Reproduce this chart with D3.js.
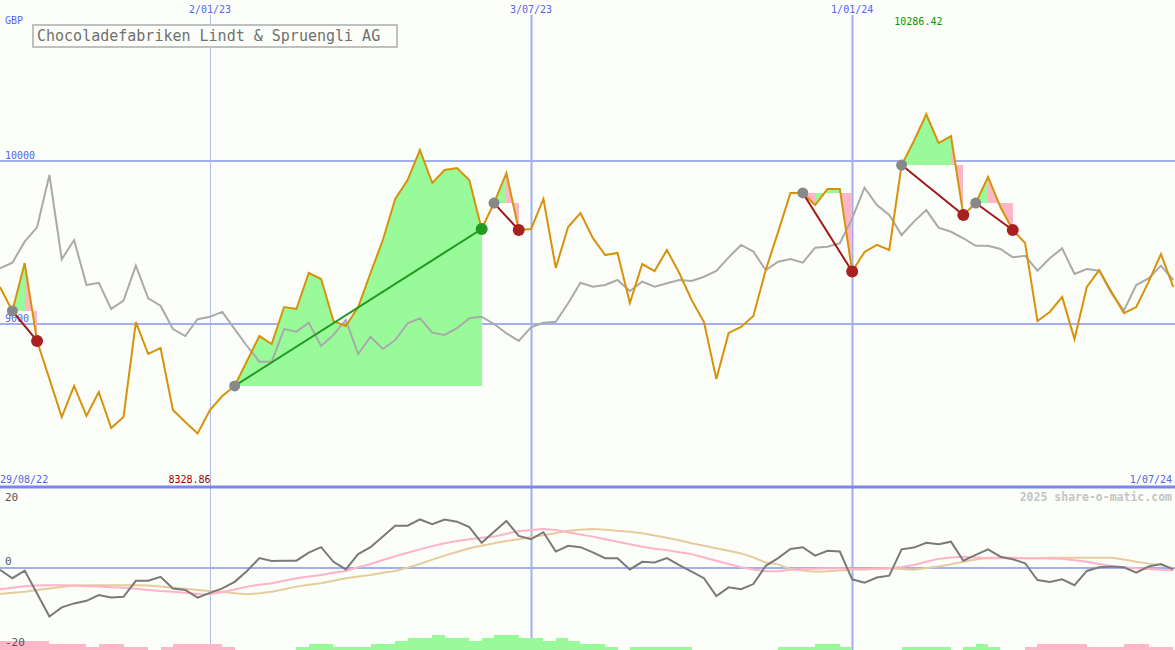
<!DOCTYPE html>
<html><head><meta charset="utf-8">
<script src="https://cdn.jsdelivr.net/npm/d3@7"></script>
<style>html,body{margin:0;padding:0;background:#fcfefa;} svg{display:block;}</style>
</head><body><svg id="c" width="1175" height="650"></svg>
<script>
// ---- data (weekly closes, index 0 .. 95) ----
const price = [9227,9080,9374,8896,8663,8429,8620,8436,8583,8362,
  8429,9012,8816,8853,8472,8399,8328.86,8472,8558,8620,
  8773,8926,8877,9104,9092,9313,9276,9018,8988,9104,
  9313,9515,9767,9883,10067,9865,9945,9957,9883,9583,
  9742,9926,9577,9583,9767,9344,9595,9681,9528,9423,
  9436,9129,9368,9325,9454,9313,9147,9012,8663,8945,
  8982,9049,9331,9564,9804,9804,9730,9828,9828,9322,
  9442,9485,9454,9975,10123,10286.42,10110,10153,9669,9742,
  9902,9718,9577,9497,9018,9074,9166,8908,9227,9331,
  9196,9067,9104,9258,9429,9227];
const compare = [9342,9376,9505,9593,9914,9397,9515,9239,9253,9092,
  9143,9358,9158,9112,8969,8926,9029,9045,9074,8969,
  8865,8769,8769,8969,8953,9008,8865,8933,9025,8816,
  8922,8847,8902,9004,9035,8947,8933,8974,9035,9045,
  9000,8943,8896,8980,9008,9014,9127,9253,9229,9239,
  9270,9202,9260,9229,9250,9270,9264,9290,9325,9409,
  9485,9444,9331,9382,9399,9376,9468,9474,9495,9648,
  9836,9730,9669,9546,9628,9699,9591,9566,9526,9480,
  9480,9460,9409,9419,9327,9403,9464,9307,9337,9327,
  9188,9082,9239,9280,9358,9270];
const momentum = [-0.5,-2.8,-0.7,-7.0,-13.3,-10.8,-9.7,-9.0,-7.4,-8.1,
  -7.9,-3.5,-3.5,-2.4,-5.6,-6.0,-8.1,-6.8,-5.6,-3.8,
  -0.8,2.7,1.9,2.0,2.0,4.2,5.7,1.7,-0.4,3.8,
  5.7,8.6,11.6,11.6,13.3,12.0,13.3,12.7,11.2,6.9,
  9.9,12.9,8.8,7.9,9.8,4.5,6.1,5.7,4.3,2.7,
  2.7,-0.4,1.7,1.5,2.7,0.8,-1.0,-2.8,-7.7,-5.3,
  -5.8,-4.4,0.6,2.7,5.2,5.7,3.4,4.7,4.5,-3.1,
  -4.0,-2.6,-2.1,5.1,5.6,6.9,6.5,7.2,2.0,3.6,
  5.1,3.1,2.4,1.3,-3.3,-3.8,-3.1,-4.7,-0.8,0.2,
  0.4,0.2,-1.3,0.4,1.1,-0.4];
const avgFast = [-5.8,-5.4,-5.0,-4.8,-4.7,-4.7,-4.8,-5.0,-5.1,-5.3,
  -5.4,-5.7,-6.0,-6.3,-6.5,-6.8,-7.1,-7.2,-6.6,-5.9,
  -5.1,-4.6,-4.2,-3.5,-2.8,-2.3,-1.9,-1.3,-0.8,0.2,
  1.1,2.2,3.2,4.2,5.1,6.0,6.8,7.4,7.9,8.3,
  8.6,9.4,10.1,10.4,10.7,10.4,9.8,9.2,8.6,7.9,
  7.2,6.5,5.8,5.3,4.9,4.3,3.8,2.9,2.0,1.1,
  0.2,-0.4,-0.9,-0.9,-0.5,-0.3,-0.2,-0.1,-0.1,-0.3,
  -0.4,-0.2,-0.1,0.3,0.8,1.7,2.5,2.9,3.1,2.9,
  2.7,2.7,2.7,2.7,2.7,2.6,2.5,2.1,1.7,1.1,
  0.5,0.2,-0.1,-0.3,-0.5,-0.7];
const avgSlow = [-7.1,-6.8,-6.5,-6.0,-5.6,-5.2,-4.8,-4.7,-4.7,-4.7,
  -4.7,-4.7,-4.8,-5.1,-5.4,-5.7,-6.0,-6.3,-6.5,-6.9,
  -7.2,-6.9,-6.5,-5.8,-5.1,-4.6,-4.2,-3.5,-2.8,-2.3,
  -1.9,-1.3,-0.8,0.1,1.1,2.3,3.4,4.4,5.4,6.1,
  6.8,7.4,7.9,8.5,9.0,9.6,10.2,10.5,10.7,10.5,
  10.2,9.9,9.5,8.9,8.3,7.6,6.8,6.1,5.4,4.7,
  4.0,2.9,1.5,1.0,-0.3,-0.7,-1.0,-0.9,-0.7,-0.5,
  -0.3,-0.2,-0.1,-0.3,-0.5,0.0,0.4,1.0,1.7,2.3,
  2.8,2.8,2.8,2.7,2.7,2.8,2.8,2.8,2.8,2.8,
  2.8,2.3,1.7,1.2,0.8,-0.1];
const signalBars = [-3,-3,-3,-3,-2,-2,-2,-1,-2,-2,
  -1,-1,0,-1,-2,-2,-2,-2,-1,0,
  0,0,0,0,1,2,2,1,1,1,
  2,2,3,4,4,5,4,4,3,4,
  5,5,4,4,3,4,3,2,2,1,
  0,1,1,1,1,1,0,0,0,0,
  0,0,0,1,1,1,2,2,1,0,
  0,0,0,1,1,1,1,0,1,2,
  1,0,0,-1,-2,-2,-2,-2,-1,-1,
  -1,-2,-2,-1,-1];
const buyIdx  = [1, 19, 40, 65, 73, 79];
const sellIdx = [3, 39, 42, 69, 78, 82];
const dateTickIdx = [17, 43, 69];
const dateTickLabels = ["2/01/23", "3/07/23", "1/01/24"];
const priceTicks = [9000, 10000];
const lowerTicks = [20, 0, -20];
const title = "Chocoladefabriken Lindt & Spruengli AG";
const startLabel = "29/08/22", endLabel = "1/07/24";

// ---- drawing ----
const W = 1175, H = 650;
const FONT = "'DejaVu Sans Mono', 'Liberation Mono', monospace";
const svg = d3.select('#c');
svg.append('rect').attr('width', W).attr('height', H).attr('fill', '#fcfefa');

const x = d3.scaleLinear().domain([0, 95]).range([0, 1173.3]);
const y = d3.scaleLinear().domain([9000, 10000]).range([324, 161]);
const yb = d3.scaleLinear().domain([-20, 20]).range([641, 495]);
const hb = d3.scaleLinear().domain([0, 5]).range([0, 15]);

const gridCol = '#a3aef0';
// vertical date lines
dateTickIdx.forEach((d, i) => {
  svg.append('line').attr('x1', Math.round(x(d)) + 0.5).attr('x2', Math.round(x(d)) + 0.5)
    .attr('y1', 15).attr('y2', H)
    .attr('stroke', i === 0 ? '#b4bcee' : gridCol).attr('stroke-width', i === 0 ? 1 : 2);
  svg.append('text').attr('x', x(d)).attr('y', 13).attr('text-anchor', 'middle')
    .attr('font-family', FONT).attr('font-size', 10).attr('fill', '#5563ee').text(dateTickLabels[i]);
});
// horizontal price grid
priceTicks.forEach(t => {
  svg.append('line').attr('x1', 0).attr('x2', W).attr('y1', y(t)).attr('y2', y(t))
    .attr('stroke', gridCol).attr('stroke-width', 2);
  svg.append('text').attr('x', 5).attr('y', y(t) - 2).attr('font-family', FONT)
    .attr('font-size', 10).attr('fill', '#5563ee').text(t);
});
// main axis line
svg.append('line').attr('x1', 0).attr('x2', W).attr('y1', 487).attr('y2', 487)
  .attr('stroke', '#7a86ee').attr('stroke-width', 3);
// lower zero line
svg.append('line').attr('x1', 0).attr('x2', W).attr('y1', yb(0)).attr('y2', yb(0))
  .attr('stroke', gridCol).attr('stroke-width', 2);

// trade fills
buyIdx.forEach((b, t) => {
  const s = sellIdx[t];
  const level = price[b];
  for (let i = b; i < s; i++) {
    const pts = [[x(i), y(level)], [x(i), y(price[i])], [x(i + 1), y(price[i + 1])], [x(i + 1), y(level)]];
    svg.append('polygon').attr('points', pts.map(p => p.join(',')).join(' '))
      .attr('fill', price[i + 1] >= level ? '#98fa98' : '#ffb6c6').attr('stroke', 'none')
      .attr('shape-rendering', 'crispEdges');
  }
});

const lineP = d3.line().x((d, i) => x(i)).y(d => y(d));
svg.append('path').attr('d', lineP(compare)).attr('fill', 'none')
  .attr('stroke', '#aaaaaa').attr('stroke-width', 2);
svg.append('path').attr('d', lineP(price)).attr('fill', 'none')
  .attr('stroke', '#d8920a').attr('stroke-width', 2);

// trade lines and markers
buyIdx.forEach((b, t) => {
  const s = sellIdx[t];
  const gain = price[s] > price[b];
  svg.append('line').attr('x1', x(b)).attr('y1', y(price[b])).attr('x2', x(s)).attr('y2', y(price[s]))
    .attr('stroke', gain ? '#1f9a1f' : '#a01818').attr('stroke-width', 2);
  svg.append('circle').attr('cx', x(b)).attr('cy', y(price[b])).attr('r', 5.5).attr('fill', '#888888');
  svg.append('circle').attr('cx', x(s)).attr('cy', y(price[s])).attr('r', 6)
    .attr('fill', gain ? '#229922' : '#a82020');
});

// labels main
svg.append('text').attr('x', 5).attr('y', 24).attr('font-family', FONT).attr('font-size', 10)
  .attr('fill', '#5563ee').text('GBP');
svg.append('rect').attr('x', 33).attr('y', 25).attr('width', 364).attr('height', 22)
  .attr('fill', '#fcfefa').attr('stroke', '#c0c0c0').attr('stroke-width', 2);
svg.append('text').attr('x', 37).attr('y', 41).attr('font-family', FONT).attr('font-size', 15)
  .attr('fill', '#707070').text(title);
svg.append('text').attr('x', 0).attr('y', 483).attr('font-family', FONT).attr('font-size', 10)
  .attr('fill', '#5563ee').text(startLabel);
svg.append('text').attr('x', 1172).attr('y', 483).attr('text-anchor', 'end').attr('font-family', FONT)
  .attr('font-size', 10).attr('fill', '#5563ee').text(endLabel);
const minI = price.indexOf(d3.min(price)), maxI = price.indexOf(d3.max(price));
svg.append('text').attr('x', x(minI) + 13).attr('y', 483).attr('text-anchor', 'end').attr('font-family', FONT)
  .attr('font-size', 10).attr('fill', '#990000').text(d3.min(price).toFixed(2));
svg.append('text').attr('x', x(maxI) - 32).attr('y', 25).attr('font-family', FONT)
  .attr('font-size', 10).attr('fill', '#009900').text(d3.max(price).toFixed(2));

// lower panel bars
signalBars.forEach((v, i) => {
  if (v === 0) return;
  const h = hb(Math.abs(v));
  svg.append('rect').attr('x', x(i)).attr('y', H - h).attr('width', x(i + 1) - x(i)).attr('height', h)
    .attr('fill', v > 0 ? '#98fa98' : '#ffb6c6').attr('shape-rendering', 'crispEdges');
});
const lineB = d3.line().x((d, i) => x(i)).y(d => yb(d));
svg.append('path').attr('d', lineB(avgSlow)).attr('fill', 'none').attr('stroke', '#e6cc9c').attr('stroke-width', 2);
svg.append('path').attr('d', lineB(avgFast)).attr('fill', 'none').attr('stroke', '#ffb2c8').attr('stroke-width', 2);
svg.append('path').attr('d', lineB(momentum)).attr('fill', 'none').attr('stroke', '#7a7a7a').attr('stroke-width', 2);

lowerTicks.forEach(t => {
  svg.append('text').attr('x', 5).attr('y', yb(t) + (t === 20 ? 6 : t === 0 ? -3 : 5))
    .attr('font-family', FONT).attr('font-size', 11).attr('fill', '#555555').text(t);
});
svg.append('text').attr('x', 1172).attr('y', 501).attr('text-anchor', 'end').attr('font-family', FONT)
  .attr('font-size', 11.5).attr('font-weight', 'bold').attr('fill', '#c4c4c4').text('2025 share-o-matic.com');
</script></body></html>
